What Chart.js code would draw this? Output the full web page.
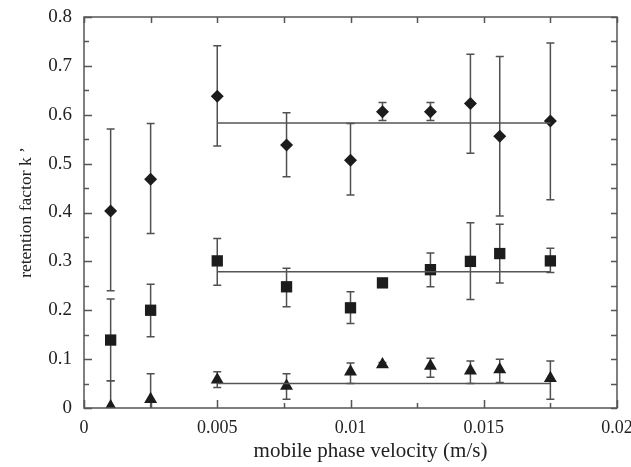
<!DOCTYPE html>
<html>
<head>
<meta charset="utf-8">
<script src="https://cdn.jsdelivr.net/npm/chart.js@4"></script>
<style>
  html, body { margin: 0; padding: 0; background: #fff; }
  #wrap { width: 631px; height: 467px; }
</style>
</head>
<body>
<div id="wrap"><canvas id="chart"></canvas></div>
<script>
// Data
const velocity = [0.001, 0.0025, 0.005, 0.0076, 0.01, 0.0112, 0.013, 0.0145, 0.0156, 0.0175];

const diamondY    = [0.403, 0.468, 0.638, 0.538, 0.507, 0.606, 0.606, 0.623, 0.556, 0.587];
const diamondLow  = [0.240, 0.357, 0.536, 0.473, 0.436, 0.588, 0.588, 0.521, 0.393, 0.426];
const diamondHigh = [0.571, 0.582, 0.741, 0.604, 0.582, 0.625, 0.625, 0.724, 0.719, 0.747];

const squareY    = [0.139, 0.200, 0.301, 0.248, 0.205, 0.256, 0.283, 0.300, 0.316, 0.301];
const squareLow  = [0.056, 0.146, 0.251, 0.207, 0.173, 0.256, 0.248, 0.222, 0.256, 0.277];
const squareHigh = [0.223, 0.253, 0.347, 0.286, 0.238, 0.256, 0.317, 0.379, 0.376, 0.327];

const triangleY    = [0.003, 0.018, 0.058, 0.045, 0.074, 0.089, 0.086, 0.076, 0.079, 0.061];
const triangleLow  = [0.000, 0.000, 0.042, 0.018, 0.050, 0.086, 0.063, 0.050, 0.052, 0.018];
const triangleHigh = [0.056, 0.070, 0.074, 0.070, 0.092, 0.093, 0.102, 0.096, 0.100, 0.096];

// mean lines over the plateau
const fitRange = [0.005, 0.0175];
const diamondMean = 0.583;
const squareMean = 0.279;
const triangleMean = 0.050;

const xTicks = [0, 0.005, 0.01, 0.015, 0.02];
const yTicks = [0, 0.1, 0.2, 0.3, 0.4, 0.5, 0.6, 0.7, 0.8];

const xTitle = 'mobile phase velocity (m/s)';
const yTitle = 'retention factor k ’';

const markColor = '#1c1c1c';
const barColor = '#505050';
const serif = 'Liberation Serif, serif';

function points(ys, lo, hi) {
  return velocity.map((x, i) => ({ x: x, y: ys[i], lo: lo[i], hi: hi[i] }));
}
function meanLine(v) {
  return fitRange.map(x => ({ x: x, y: v }));
}

// error bars, drawn under the markers
const errorBars = {
  id: 'errorBars',
  beforeDatasetsDraw(chart) {
    const ctx = chart.ctx;
    const xs = chart.scales.x, ys = chart.scales.y;
    ctx.save();
    ctx.strokeStyle = barColor;
    ctx.lineWidth = 1.5;
    chart.data.datasets.forEach(ds => {
      if (!ds.errors) return;
      ds.data.forEach(p => {
        if (p.hi - p.lo < 0.004) return;
        const px = xs.getPixelForValue(p.x);
        const top = ys.getPixelForValue(p.hi);
        const bot = ys.getPixelForValue(p.lo);
        ctx.beginPath();
        ctx.moveTo(px, top); ctx.lineTo(px, bot);
        ctx.moveTo(px - 4, top); ctx.lineTo(px + 4, top);
        if (p.lo > 0) { ctx.moveTo(px - 4, bot); ctx.lineTo(px + 4, bot); }
        ctx.stroke();
      });
    });
    ctx.restore();
  }
};

// box frame with inward ticks on all sides, plus axis titles
const frame = {
  id: 'frame',
  afterDraw(chart) {
    const ctx = chart.ctx;
    const a = chart.chartArea;
    const xs = chart.scales.x, ys = chart.scales.y;
    ctx.save();
    ctx.strokeStyle = '#555';
    ctx.lineWidth = 1.5;
    ctx.strokeRect(a.left, a.top, a.right - a.left, a.bottom - a.top);
    ctx.beginPath();
    for (let i = 0; i <= 8; i++) {
      const px = Math.round(xs.getPixelForValue(i * 0.0025)) + 0.5;
      const len = i % 2 === 0 ? 8 : 5;
      ctx.moveTo(px, a.bottom); ctx.lineTo(px, a.bottom - len);
      ctx.moveTo(px, a.top); ctx.lineTo(px, a.top + 6);
    }
    for (let i = 0; i <= 16; i++) {
      const py = Math.round(ys.getPixelForValue(i * 0.05)) + 0.5;
      const len = i % 2 === 0 ? 8 : 5;
      ctx.moveTo(a.left, py); ctx.lineTo(a.left + len, py);
      ctx.moveTo(a.right, py); ctx.lineTo(a.right - 6, py);
    }
    ctx.stroke();

    ctx.fillStyle = '#222';
    ctx.textAlign = 'center';
    ctx.textBaseline = 'middle';
    ctx.font = '21px ' + serif;
    ctx.fillText(xTitle, (a.left + a.right) / 2 + 20, 451);
    ctx.translate(26, (a.top + a.bottom) / 2);
    ctx.rotate(-Math.PI / 2);
    ctx.font = '17.5px ' + serif;
    ctx.fillText(yTitle, 0, 0);
    ctx.restore();
  }
};

const data = {
  datasets: [
    { data: meanLine(diamondMean), showLine: true, borderColor: '#555', borderWidth: 1.5, pointRadius: 0 },
    { data: meanLine(squareMean), showLine: true, borderColor: '#555', borderWidth: 1.5, pointRadius: 0 },
    { data: meanLine(triangleMean), showLine: true, borderColor: '#555', borderWidth: 1.5, pointRadius: 0 },
    { data: points(diamondY, diamondLow, diamondHigh), errors: true, pointStyle: 'rectRot', pointRadius: 6.5,
      backgroundColor: markColor, borderColor: markColor, borderWidth: 0 },
    { data: points(squareY, squareLow, squareHigh), errors: true, pointStyle: 'rect', pointRadius: 8,
      backgroundColor: markColor, borderColor: markColor, borderWidth: 0 },
    { data: points(triangleY, triangleLow, triangleHigh), errors: true, pointStyle: 'triangle', pointRadius: 7.5,
      backgroundColor: markColor, borderColor: markColor, borderWidth: 0 }
  ]
};

new Chart(document.getElementById('chart'), {
  type: 'scatter',
  data: data,
  plugins: [errorBars, frame],
  options: {
    responsive: true,
    maintainAspectRatio: false,
    animation: false,
    layout: { padding: { top: 17, right: 14, left: 0, bottom: 0 } },
    plugins: { legend: { display: false }, tooltip: { enabled: false } },
    scales: {
      x: {
        type: 'linear', min: 0, max: 0.02,
        grid: { display: false, drawTicks: false },
        border: { display: false },
        afterBuildTicks: s => { s.ticks = xTicks.map(v => ({ value: v })); },
        afterFit: s => { s.height = 59; s.paddingLeft = 0; s.paddingRight = 0; },
        ticks: {
          autoSkip: false, maxRotation: 0, padding: 9, color: '#222',
          font: { family: serif, size: 18 },
          callback: v => String(v)
        }
      },
      y: {
        type: 'linear', min: 0, max: 0.8,
        grid: { display: false, drawTicks: false },
        border: { display: false },
        afterBuildTicks: s => { s.ticks = yTicks.map(v => ({ value: v })); },
        afterFit: s => { s.width = 84; s.paddingTop = 0; s.paddingBottom = 0; },
        ticks: {
          autoSkip: false, padding: 12, color: '#222',
          font: { family: serif, size: 19 },
          callback: v => String(v)
        }
      }
    }
  }
});
</script>
</body>
</html>
